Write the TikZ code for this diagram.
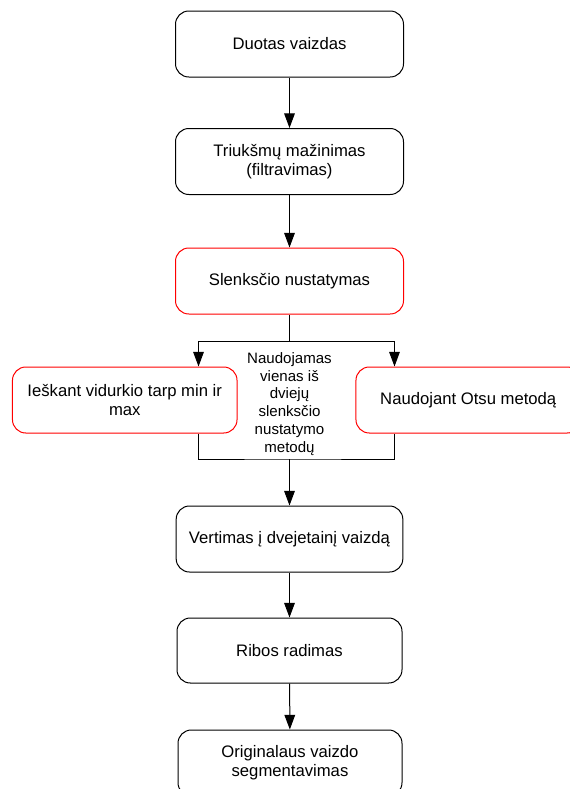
\documentclass[tikz,border=0pt]{standalone}
\usepackage{fontspec}
\setmainfont{Liberation Sans}
\usetikzlibrary{arrows.meta,positioning,calc}

\tikzset{
  stepbox/.style={draw=black, line width=0.75pt, rounded corners=10pt, fill=white,
    minimum width=171pt, minimum height=49.5pt, align=center,
    font=\fontsize{12.5}{14.25}\selectfont},
  redbox/.style={stepbox, draw=red, minimum width=168.4pt},
  arr/.style={line width=0.75pt, -{Triangle[length=11pt,width=8pt]}},
  ln/.style={line width=0.75pt}
}

\begin{document}
\begin{tikzpicture}[x=0.75pt,y=-0.75pt]
 \useasboundingbox (0,0) rectangle (570,789);
 % main column
 \node[stepbox] (given) at (289.5,44) {Duotas vaizdas};
 \node[stepbox] (noise) at (289.5,161.5) {Triukšmų mažinimas\\(filtravimas)};
 \node[stepbox, draw=red] (thresh) at (289.5,281) {Slenksčio nustatymas};
 % two methods
 \node[redbox] (mean) at (124.75,400) {Ieškant vidurkio tarp min ir\\max};
 \node[redbox] (otsu) at (468.25,400) {Naudojant Otsu metodą};
 \node[align=center, font=\fontsize{11.3}{13.4}\selectfont] (note) at (289.5,404)
      {Naudojamas\\vienas iš\\dviejų\\slenksčio\\nustatymo\\metodų};
 \node[stepbox, minimum width=170pt] (binary) at (289.5,539) {Vertimas į dvejetainį vaizdą};
 \node[stepbox, minimum width=168.75pt, minimum height=48.75pt] (edge) at (289.5,650.5) {Ribos radimas};
 \node[stepbox, minimum width=168pt] (segm) at (290,763) {Originalaus vaizdo\\segmentavimas};
 \coordinate (split) at (289.5,341);
 \coordinate (join) at (289.5,459);
 % connectors
 \draw[arr] (given) -- (noise);
 \draw[arr] (noise) -- (thresh);
 \draw[ln] (thresh) -- (split);
 \draw[arr] (split) -| ([xshift=-29.25pt]mean.north east);
 \draw[arr] (split) -| ([xshift=29.25pt]otsu.north west);
 \draw[ln] ([xshift=-29.25pt]mean.south east) |- (join) -| ([xshift=29.25pt]otsu.south west);
 \draw[arr] (join) -- (binary);
 \draw[arr] (binary) -- (edge);
 \draw[arr] (edge) -- (segm);
\end{tikzpicture}
\end{document}
